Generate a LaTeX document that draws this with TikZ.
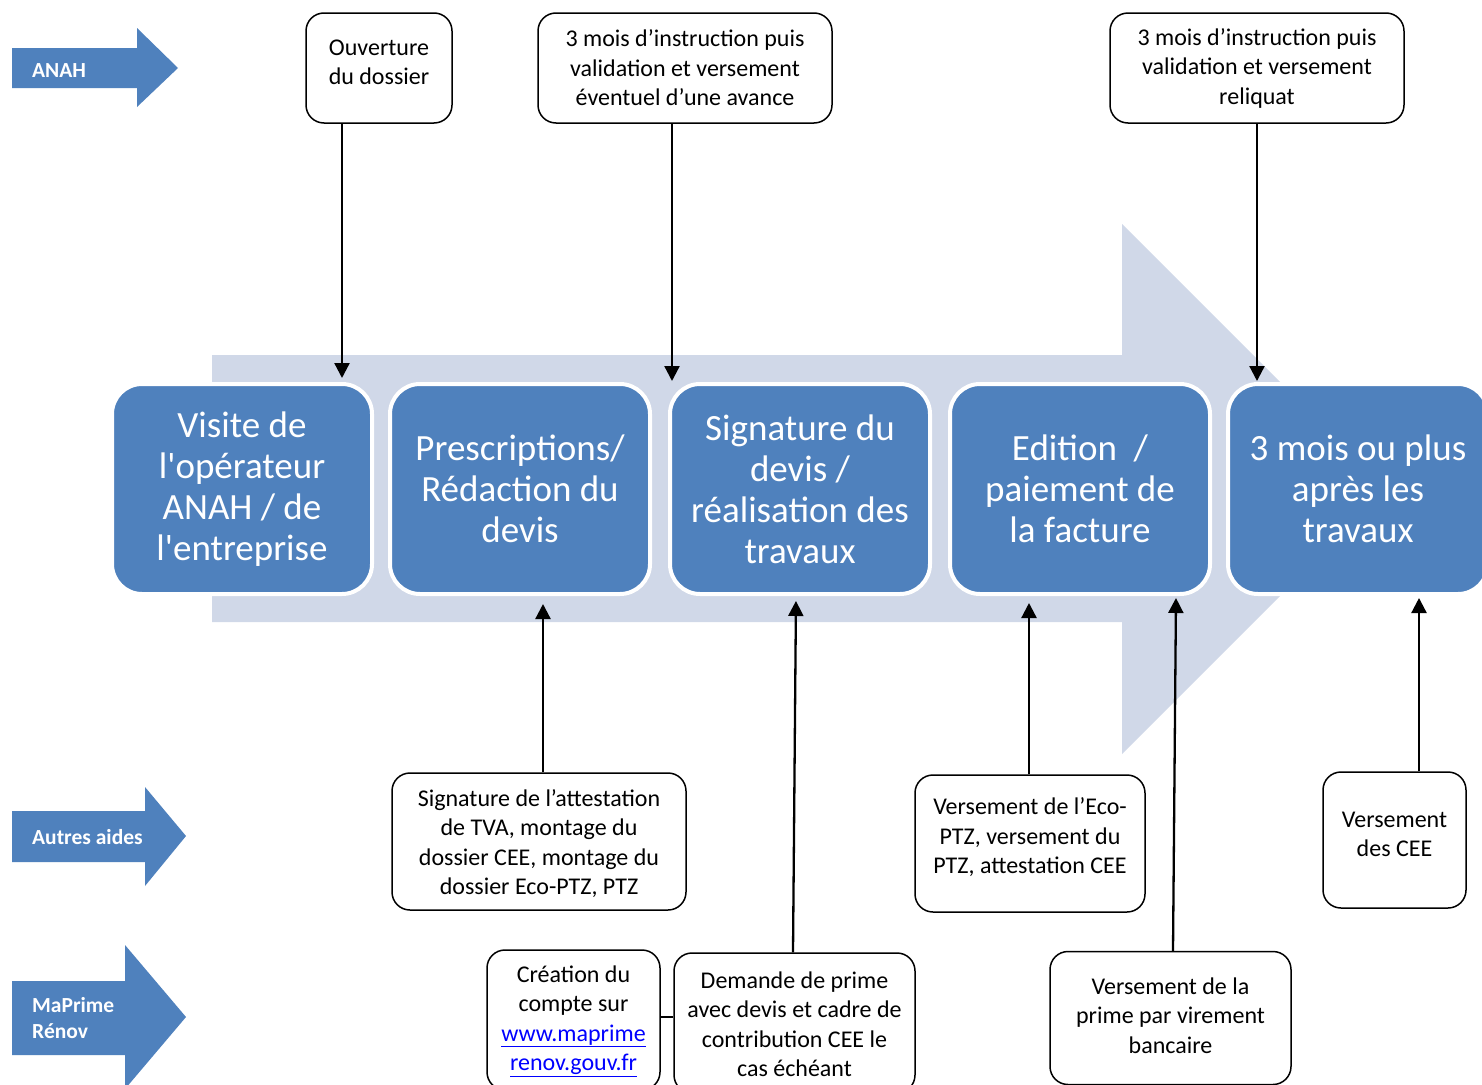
\documentclass[tikz,border=0pt]{standalone}
\usepackage{fontspec}
\newfontfamily\calf{Carlito}
\usetikzlibrary{arrows.meta}
\definecolor{bl}{HTML}{4F81BD}
\definecolor{lb}{HTML}{D0D8E8}
\definecolor{lnk}{HTML}{0000FF}
\begin{document}
\begin{tikzpicture}[x=1pt,y=-1pt,
 stage/.style={fill=bl, draw=white, line width=4pt, rounded corners=30pt, minimum width=260pt, minimum height=210pt, text=white, align=center, font=\calf\fontsize{37}{41}\selectfont, inner sep=0pt},
 note/.style={draw=black, line width=1.5pt, rounded corners=18pt, fill=white, inner sep=0pt},
 ntext/.style={align=center, font=\calf\fontsize{24}{29.5}\selectfont, inner sep=0pt},
 arr/.style={line width=2.3pt, -{Triangle[length=15pt,width=15pt]}},
 lab/.style={text=white, font=\calf\bfseries\fontsize{21.5}{26}\selectfont, anchor=west, align=left, inner sep=0pt}]
\useasboundingbox (0,0) rectangle (1482,1084);
\clip (0,0) rectangle (1482,1084);
\fill[white] (0,0) rectangle (1482,1084);
% big background arrow
\fill[lb] (212,355) -- (1122,355) -- (1122,224) -- (1387,489) -- (1122,754) -- (1122,622) -- (212,622) -- cycle;
% left arrows
\fill[bl] (12,48) -- (137,48) -- (137,28) -- (178,68) -- (137,107) -- (137,88) -- (12,88) -- cycle;
\node[lab] (lanah) at (32,71) {ANAH};
\fill[bl] (12,811) -- (145,811) -- (145,787) -- (186,836) -- (145,886) -- (145,862) -- (12,862) -- cycle;
\node[lab] (lautres) at (32,837) {Autres aides};
\fill[bl] (12,981) -- (125,981) -- (125,945) -- (186,1017) -- (125,1089) -- (125,1055) -- (12,1055) -- cycle;
\node[lab] (lmpr) at (32,1018) {MaPrime\\Rénov};
% stages
\node[stage] (v1) at (242,489) {Visite de\\l'opérateur\\ANAH / de\\l'entreprise};
\node[stage] (v2) at (520,489) {Prescriptions/\\Rédaction du\\devis};
\node[stage] (v3) at (800,489) {Signature du\\devis /\\réalisation des\\travaux};
\node[stage] (v4) at (1080,489) {Edition\ \ /\\paiement de\\la facture};
\node[stage] (v5) at (1358,489) {3 mois ou plus\\après les\\travaux};
% notes (box + text)
\node[note, minimum width=146pt, minimum height=110pt] (ouv) at (379,68) {};
\node[ntext] (ouvt) at (379,62.5) {Ouverture\\du dossier};
\node[note, minimum width=294pt, minimum height=110pt] (ins1) at (685,68) {};
\node[ntext] (ins1t) at (685,68) {3 mois d’instruction puis\\validation et versement\\éventuel d’une avance};
\node[note, minimum width=294pt, minimum height=110pt] (ins2) at (1257,68) {};
\node[ntext] (ins2t) at (1257,68) {3 mois d’instruction puis\\validation et versement\\reliquat};
\node[note, minimum width=294pt, minimum height=137pt] (sig) at (539,841.5) {};
\node[ntext] (sigt) at (539,843.5) {Signature de l’attestation\\de TVA, montage du\\dossier CEE, montage du\\dossier Eco-PTZ, PTZ};
\node[note, minimum width=230pt, minimum height=137pt] (eco) at (1030,843.5) {};
\node[ntext] (ecot) at (1030,837.5) {Versement de l’Eco-\\PTZ, versement du\\PTZ, attestation CEE};
\node[note, minimum width=143pt, minimum height=136pt] (cee) at (1394.5,840) {};
\node[ntext] (ceet) at (1394.5,834.5) {Versement\\des CEE};
\node[note, minimum width=173pt, minimum height=140pt] (cre) at (573.5,1020) {};
\node[ntext] (cret) at (573.5,1021) {Création du\\compte sur\\\textcolor{lnk}{\underline{www.maprime}}\\\textcolor{lnk}{\underline{renov.gouv.fr}}};
\node[note, minimum width=241pt, minimum height=140pt] (dem) at (794.5,1023) {};
\node[ntext] (demt) at (794.5,1024) {Demande de prime\\avec devis et cadre de\\contribution CEE le\\cas échéant};
\node[note, minimum width=241pt, minimum height=133pt] (pri) at (1170.5,1018) {};
\node[ntext] (prit) at (1170.5,1015.5) {Versement de la\\prime par virement\\bancaire};
% connectors
\draw[arr, shorten >=4pt] (ouv.south -| 342,0) -- (v1.north -| 342,0);
\draw[arr, shorten >=1pt] (ins1.south -| 672,0) -- (v3.north -| 672,0);
\draw[arr, shorten >=1pt] (ins2.south -| 1257,0) -- (v5.north -| 1257,0);
\draw[arr, shorten >=8pt] (sig.north -| 543,0) -- (v2.south -| 543,0);
\draw[arr, shorten >=5pt] (dem.north -| 793,0) -- (v3.south -| 796,0);
\draw[arr, shorten >=7pt] (eco.north -| 1029,0) -- (v4.south -| 1029,0);
\draw[arr, shorten >=2pt] (pri.north -| 1173,0) -- (v4.south -| 1176,0);
\draw[arr, shorten >=2pt] (cee.north -| 1419,0) -- (v5.south -| 1419,0);
\draw[line width=1.5pt] (cre.east |- 0,1017) -- (dem.west |- 0,1017);
\end{tikzpicture}
\end{document}
